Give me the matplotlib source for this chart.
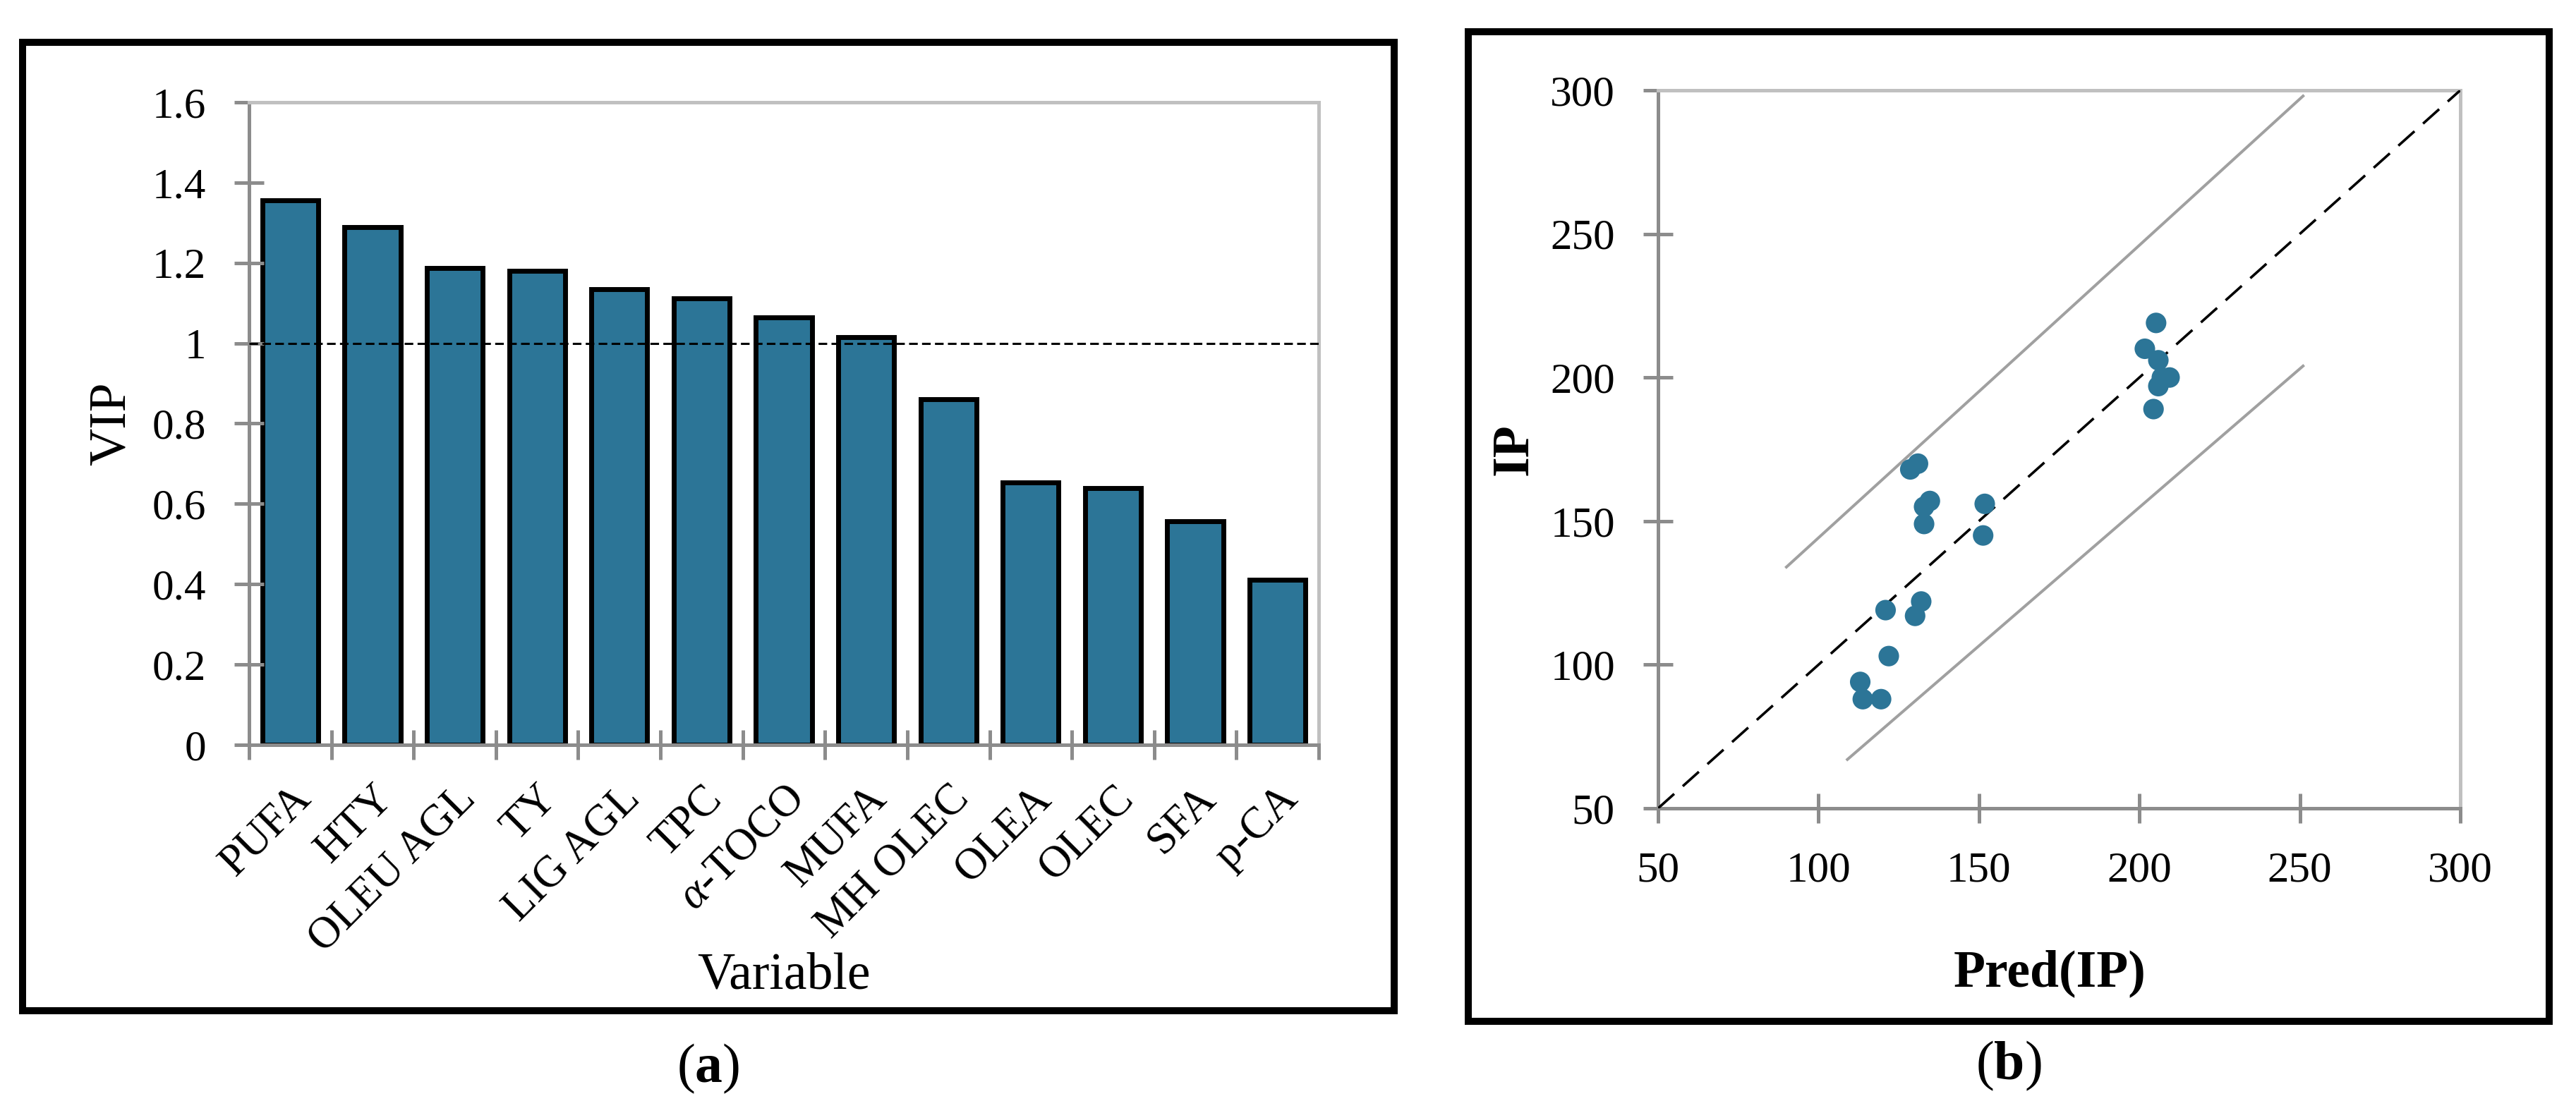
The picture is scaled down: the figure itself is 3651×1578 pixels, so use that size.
import numpy as np
import matplotlib
matplotlib.use("Agg")
import matplotlib.pyplot as plt
from matplotlib.patches import Rectangle

# ---- data ----
variables = ['PUFA', 'HTY', 'OLEU AGL', 'TY', 'LIG AGL', 'TPC', r'$\mathit{\alpha}$-TOCO',
             'MUFA', 'MH OLEC', 'OLEA', 'OLEC', 'SFA', 'p-CA']
vip = [1.355, 1.290, 1.187, 1.180, 1.134, 1.111, 1.064, 1.016, 0.861, 0.654, 0.640, 0.557, 0.411]
vip_threshold = 1.0

pred_ip = [128.6, 131.0, 134.7, 132.9, 132.9, 151.8, 151.3, 120.9, 132.0, 130.1, 121.9,
           113.0, 113.8, 119.5, 205.2, 201.7, 205.9, 209.4, 205.9, 204.4, 207.0]
ip = [168, 170, 157, 155, 149, 156, 145, 119, 122, 117, 103,
      94, 88, 88, 219, 210, 206, 200, 197, 189, 200]
upper_x = [90, 251]
upper_y = [134, 298]
lower_x = [109, 251]
lower_y = [67, 204]
ideal = [50, 300]

# ---- style ----
plt.rcParams['font.family'] = ['Liberation Serif', 'DejaVu Serif']
plt.rcParams['mathtext.fontset'] = 'custom'
plt.rcParams['mathtext.rm'] = 'Liberation Serif'
plt.rcParams['mathtext.it'] = 'Liberation Serif:italic'
plt.rcParams['mathtext.bf'] = 'Liberation Serif:bold'

bar_color = '#2c7597'
axis_gray = '#8c8c8c'
light_gray = '#c0c0c0'
W, H = 3651, 1578

fig = plt.figure(figsize=(W / 100, H / 100), dpi=100)


def px_axes(x0, y0, x1, y1):
    return fig.add_axes([x0 / W, 1 - y1 / H, (x1 - x0) / W, (y1 - y0) / H])


def style_axes(ax):
    ax.spines['left'].set_color(axis_gray)
    ax.spines['bottom'].set_color(axis_gray)
    ax.spines['top'].set_color(light_gray)
    ax.spines['right'].set_color(light_gray)
    for s in ax.spines.values():
        s.set_linewidth(3.6)


# ---- (a) VIP bar chart ----
ax1 = px_axes(353, 145, 1869, 1056)
pos = np.arange(len(variables))
ax1.bar(pos, vip, width=0.68, color=bar_color, edgecolor='black', linewidth=5, zorder=1)
ax1.axhline(vip_threshold, color='black', linestyle=(0, (4, 2)), linewidth=2.2, zorder=3)
ax1.set_xlim(-0.5, len(variables) - 0.5)
ax1.set_ylim(0, 1.6)
yt = np.arange(0, 1.61, 0.2)
ax1.set_yticks(yt)
ax1.set_yticklabels(['0', '0.2', '0.4', '0.6', '0.8', '1', '1.2', '1.4', '1.6'])
ax1.set_xticks(pos)
ax1.set_xticklabels(variables, rotation=45, ha='right', va='top', rotation_mode='anchor')
ax1.set_xticks(np.arange(-0.5, len(variables)), minor=True)
style_axes(ax1)
ax1.tick_params(axis='x', which='major', length=0, pad=34, labelsize=45)
ax1.tick_params(axis='x', which='minor', length=30, width=3.6, direction='inout', color=axis_gray)
ax1.tick_params(axis='y', length=30, width=3.6, direction='inout', color=axis_gray, pad=29, labelsize=44)
ax1.set_ylabel('VIP', fontsize=53, va='center')
ax1.yaxis.set_label_coords(-0.128, 0.5)
ax1.set_xlabel('Variable', fontsize=53, va='center')
ax1.xaxis.set_label_coords(0.5, -0.360)

# ---- (b) IP vs Pred(IP) ----
ax2 = px_axes(2350, 128, 3487, 1146)
ax2.plot(upper_x, upper_y, color='#a0a0a0', linewidth=2.9, zorder=2)
ax2.plot(lower_x, lower_y, color='#a0a0a0', linewidth=2.9, zorder=2)
ax2.plot(ideal, ideal, color='black', linewidth=2.6, dashes=(8.5, 4.5), zorder=3)
ax2.scatter(pred_ip, ip, s=440, color=bar_color, edgecolors='none', zorder=4)
ax2.set_xlim(50, 300)
ax2.set_ylim(50, 300)
ax2.set_xticks(np.arange(50, 301, 50))
ax2.set_yticks(np.arange(50, 301, 50))
style_axes(ax2)
ax2.tick_params(length=30, width=3.6, direction='inout', color=axis_gray, pad=29, labelsize=44)
ax2.set_ylabel('IP', fontsize=53, fontweight='bold', va='center')
ax2.yaxis.set_label_coords(-0.179, 0.5)
ax2.set_xlabel('Pred(IP)', fontsize=53, fontweight='bold', va='center')
ax2.xaxis.set_label_coords(0.488, -0.230)

# ---- panel frames and captions ----
for (x0, y0, x1, y1) in [(32, 60, 1976, 1433), (2081, 45, 3613, 1448)]:
    fig.add_artist(Rectangle((x0 / W, 1 - y1 / H), (x1 - x0) / W, (y1 - y0) / H,
                             transform=fig.transFigure, fill=False,
                             edgecolor='black', linewidth=7.2))

fig.text(1004 / W, 1 - 1515 / H, r'($\mathbf{a}$)', fontsize=56, ha='center', va='center')
fig.text(2847 / W, 1 - 1511 / H, r'($\mathbf{b}$)', fontsize=56, ha='center', va='center')

fig.savefig('out.png', dpi=100)
